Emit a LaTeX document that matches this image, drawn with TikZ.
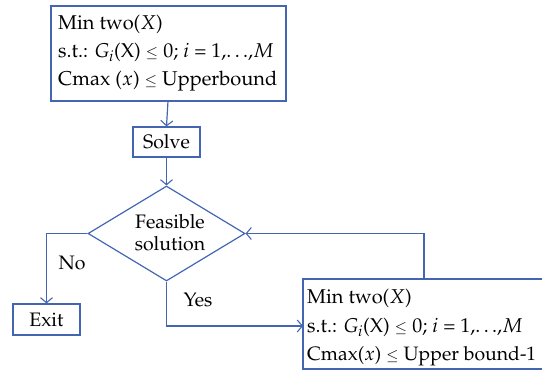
\documentclass[tikz,border=0pt]{standalone}
\usepackage[T1]{fontenc}
\usepackage{mathpazo}
\usetikzlibrary{arrows.meta,shapes.geometric}
\definecolor{lineblue}{RGB}{68,102,178}
\newcommand{\sle}{{\fontsize{15}{15}\selectfont$\le$}}
\tikzset{
  box/.style={draw=lineblue, line width=1.2pt, inner sep=0pt},
  conn/.style={draw=lineblue, line width=1.2pt, -{Straight Barb[length=5pt,width=12pt,line width=1.1pt]}},
  lbl/.style={font=\fontsize{19.5}{23}\selectfont, inner sep=0pt},
  txt/.style={font=\fontsize{20}{23}\selectfont, anchor=base west, inner sep=0pt}
}
\begin{document}
\begin{tikzpicture}[x=1pt,y=-1pt]
\useasboundingbox (0,0) rectangle (542,374);
% top box
\draw[box] (51,6) rectangle (286,101);
\node[txt] (t1) at (58,30) {Min two($X$)};
\node[txt] (t2) at (58,58) {s.t.: $G_i$(X) \sle{} 0; $i$ = 1,.\,.\,.,$M$};
\node[txt] (t3) at (58,86) {Cmax ($x$) \sle{} Upperbound};
\coordinate (topb) at (168,101);
% solve
\node[box, minimum width=67pt, minimum height=30pt, lbl] (solve) at (166.5,142) {Solve};
% diamond
\node[diamond, draw=lineblue, line width=1.2pt, minimum width=157pt, minimum height=95pt, inner sep=0pt] (dec) at (166.5,233.5) {};
\node[lbl] (f1) at (170,222) {Feasible};
\node[lbl] (f2) at (170,244) {solution};
% exit
\node[box, minimum width=67pt, minimum height=31pt, lbl] (exit) at (46.5,319.5) {Exit};
% right box
\draw[box] (303,279) rectangle (548,369);
\node[txt] (r1) at (307,304) {Min two($X$)};
\node[txt] (r2) at (307,333) {s.t.: $G_i$(X) \sle{} 0; $i$ = 1,.\,.\,.,$M$};
\node[txt, font=\fontsize{19.4}{23}\selectfont] (r3) at (307,361) {Cmax($x$) \sle{} Upper bound-1};
\coordinate (rleft) at (303,326);
\coordinate (rtop) at (424,279);
% labels
\node[lbl] (no) at (72,263) {No};
\node[lbl] (yes) at (198,300) {Yes};
% connectors
\draw[conn] (topb) -- (solve.north);
\draw[conn] (solve.south) -- (dec.north);
\draw[conn] (dec.west) -| (exit.north);
\draw[conn] (dec.south) |- (rleft);
\draw[conn] (rtop) |- (dec.east);
\end{tikzpicture}
\end{document}
